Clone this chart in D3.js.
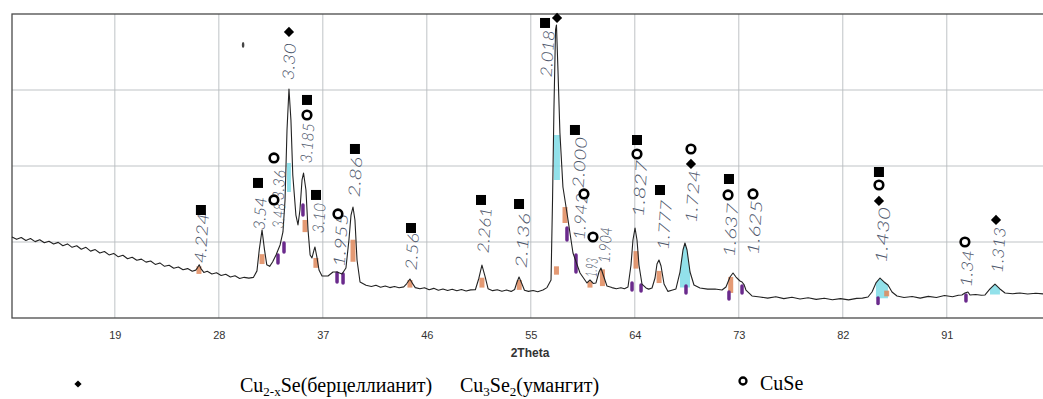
<!DOCTYPE html>
<html>
<head>
<meta charset="utf-8">
<script src="https://cdn.jsdelivr.net/npm/d3@7"></script>
<style>
  body { margin: 0; background: #fff; }
</style>
</head>
<body>
<svg id="chart" width="1043" height="399"></svg>
<script>
// 2Theta ticks under the frame
const xTicks = [19, 28, 37, 46, 55, 64, 73, 82, 91];
const yGrid = [1000, 2000, 3000];

// diffractogram: [2theta, intensity]
const pattern = [
  [10.1,1066],[10.5,1035],[10.9,1060],[11.3,1020],[11.7,1045],[12.1,1005],[12.5,1030],[12.9,990],
  [13.3,1010],[13.7,975],[14.1,995],[14.5,950],[14.9,975],[15.3,930],[15.7,950],[16.1,905],
  [16.5,930],[16.9,880],[17.3,900],[17.7,855],[18.1,875],[18.5,830],[18.9,850],[19.3,805],
  [19.7,825],[20.1,780],[20.5,800],[20.9,760],[21.3,775],[21.7,735],[22.1,750],[22.5,705],
  [22.9,725],[23.3,680],[23.7,695],[24.1,655],[24.5,670],[24.9,635],[25.3,650],[25.7,615],
  [26.0,630],[26.15,660],[26.3,700],[26.45,650],[26.7,600],[27.0,615],[27.4,580],[27.8,595],
  [28.2,560],[28.6,575],[29.0,540],[29.4,555],[29.8,520],[30.2,535],[30.6,525],[31.0,535],
  [31.3,620],[31.5,900],[31.74,1158],[31.95,900],[32.15,700],[32.4,680],[32.65,737],[32.95,829],
  [33.3,961],[33.55,1132],[33.73,1553],[33.9,2474],[34.07,3013],[34.24,2606],[34.4,1882],[34.67,1355],
  [34.85,1224],[35.02,1421],[35.2,1816],[35.33,1908],[35.54,1684],[35.72,1158],[35.9,829],[36.06,790],
  [36.24,895],[36.32,934],[36.5,790],[36.67,632],[36.93,553],[37.45,553],[37.88,605],[38.23,605],
  [38.66,579],[39.0,658],[39.26,1026],[39.44,1355],[39.61,1460],[39.78,1290],[39.96,763],[40.22,474],
  [40.74,430],[41.2,415],[41.6,430],[42.0,405],[42.4,420],[42.8,400],[43.2,415],[43.6,398],
  [44.0,410],[44.25,450],[44.54,513],[44.8,445],[45.0,400],[45.4,385],[45.8,398],[46.2,372],
  [46.6,390],[47.0,365],[47.4,382],[47.8,362],[48.2,378],[48.6,358],[49.0,374],[49.4,356],
  [49.8,370],[50.2,372],[50.5,520],[50.77,697],[51.05,540],[51.3,385],[51.7,360],[52.1,372],
  [52.5,352],[52.9,368],[53.3,350],[53.6,375],[53.8,470],[53.98,539],[54.2,460],[54.45,365],
  [54.8,350],[55.2,362],[55.6,345],[56.05,368],[56.4,400],[56.75,500],[56.88,1553],[57.0,2737],
  [57.14,3790],[57.22,3856],[57.35,3264],[57.52,2435],[57.78,1724],[58.13,1382],[58.65,855],[59.26,592],
  [59.86,461],[60.12,500],[60.4,455],[60.64,461],[60.9,605],[61.07,658],[61.24,579],[61.59,421],
  [62.02,400],[62.4,385],[62.8,398],[63.1,385],[63.41,408],[63.67,697],[63.84,1026],[64.02,1184],
  [64.19,1026],[64.36,697],[64.62,447],[64.97,395],[65.2,380],[65.49,395],[65.75,526],[65.92,711],
  [66.09,763],[66.27,684],[66.53,447],[66.87,350],[67.2,365],[67.56,382],[67.91,605],[68.17,895],
  [68.34,987],[68.52,895],[68.78,605],[69.12,434],[69.64,395],[70.3,380],[70.94,382],[71.55,368],
  [71.89,408],[72.24,539],[72.5,592],[72.76,539],[73.1,487],[73.28,474],[73.45,440],[73.62,368],
  [74.14,290],[74.83,276],[75.5,262],[76.2,280],[76.9,255],[77.6,272],[78.3,250],[79.0,266],
  [79.7,245],[80.4,260],[81.1,240],[81.8,255],[82.5,238],[83.2,258],[83.7,262],[84.18,276],
  [84.53,342],[84.87,461],[85.22,526],[85.57,474],[85.91,434],[86.26,342],[86.69,290],[87.3,270],
  [88.0,282],[88.7,262],[89.4,285],[90.1,270],[90.8,295],[91.5,280],[92.0,300],[92.31,303],
  [92.57,329],[92.83,342],[93.01,303],[93.5,310],[94.0,300],[94.31,303],[94.74,382],[95.17,447],
  [95.6,382],[96.04,329],[96.7,320],[97.33,329],[98.0,315],[98.7,325],[99.4,316]
];

// handwritten d-spacing notes: [2theta, text, intensity at foot, intensity at head]
const notes = [
  [26.28,"4.224",724,1382],[31.39,"3.54",1158,1592],[33.03,"3.48",1184,1513],[33.03,"3.36",1553,1948],
  [33.9,"3.30",3132,3619],[35.46,"3.185",2040,2566],[36.5,"3.10",1119,1513],[38.31,"1.955",671,1382],
  [39.61,"2.86",1592,2119],[44.54,"2.56",632,1119],[50.77,"2.261",855,1461],[54.06,"2.136",658,1382],
  [56.23,"2.018",3172,3790],[59.0,"2.000",1711,2382],[59.08,"1.942",1026,1645],[60.12,"1.93",540,790],
  [61.25,"1.904",724,1198],[64.19,"1.827",1329,2079],[66.35,"1.777",895,1553],[68.78,"1.724",1250,1948],
  [72.07,"1.637",803,1513],[74.14,"1.625",829,1553],[85.22,"1.430",724,1461],[92.57,"1.34",408,895],
  [95.26,"1.313",592,1198]
];

// phase marks: Cu3Se2 squares, CuSe circles, Cu2-xSe diamonds
const squares = [
  [26.45,1421],[31.39,1777],[35.63,2869],[36.41,1619],[39.78,2224],[44.63,1184],[50.69,1553],
  [53.98,1500],[56.23,3882],[58.82,2474],[64.19,2342],[66.18,1684],[72.15,1829],[85.13,1921]
];
const circles = [
  [32.77,2106],[32.77,1553],[35.63,2671],[38.31,1369],[59.6,1632],[60.38,1066],[64.19,2158],
  [68.86,2224],[72.07,1619],[74.23,1632],[85.13,1750],[92.57,1000]
];
const diamonds = [[34.07,3764],[57.27,3948],[68.86,2027],[85.13,1540],[95.26,1290]];

// marker-pen highlights on the scan
const cyanBands = [[33.9,34.24,1658,2040],[57.0,57.52,1816,2408],[67.91,68.78,400,5000],[84.6,86.1,260,5000],[94.57,95.6,310,5000]];
const orangeTicks = [
  [26.28,580,680],[31.74,710,840],[35.46,1130,1290],[36.4,660,790],[39.61,740,1030],[44.54,400,500],
  [50.77,400,530],[54.0,370,500],[57.22,570,680],[57.96,1250,1460],[60.12,400,480],[61.2,420,640],
  [64.1,650,880],[66.1,460,620],[72.3,330,540],[85.8,285,360]
];
const purpleTicks = [
  [33.12,724,829],[33.64,868,987],[35.28,1355,1487],[38.23,474,592],[38.75,461,579],[58.13,1026,1184],
  [58.91,605,829],[63.76,368,461],[64.54,355,434],[68.43,329,421],[72.15,250,342],[73.28,329,421],
  [85.05,190,263],[92.66,224,303]
];

const svg = d3.select('#chart');
const x = d3.scaleLinear().domain([10.1, 99.5]).range([12, 1045]);
const y = d3.scaleLinear().domain([0, 4000]).range([318, 14]);

// grid
svg.append('g')
  .selectAll('line')
  .data(xTicks)
  .enter()
  .append('line')
  .attr('x1', d => x(d)).attr('x2', d => x(d))
  .attr('y1', y(4000)).attr('y2', y(0))
  .attr('stroke', '#b8bcbf').attr('stroke-width', 0.9);

svg.append('g')
  .selectAll('line')
  .data(yGrid)
  .enter()
  .append('line')
  .attr('x1', x(10.1)).attr('x2', 1045)
  .attr('y1', d => y(d)).attr('y2', d => y(d))
  .attr('stroke', '#b8bcbf').attr('stroke-width', 0.9);

// frame
svg.append('rect')
  .attr('x', x(10.1)).attr('y', y(4000))
  .attr('width', 1045 - x(10.1)).attr('height', y(0) - y(4000))
  .attr('fill', 'none').attr('stroke', '#4a4a4a').attr('stroke-width', 1.3);

// x axis, labels only
const xAxis = d3.axisBottom(x).tickValues(xTicks).tickSize(0).tickPadding(13);
const gx = svg.append('g').attr('transform', `translate(0,${y(0)})`).call(xAxis);
gx.select('.domain').remove();
gx.selectAll('text').attr('font-family', 'Liberation Sans Narrow, Liberation Sans, Arial').attr('font-size', 11).attr('fill', '#333');

svg.append('text')
  .attr('x', 530).attr('y', 357)
  .attr('text-anchor', 'middle')
  .attr('font-family', 'Liberation Sans Narrow, Liberation Sans, Arial').attr('font-weight', 'bold').attr('font-size', 12)
  .attr('fill', '#333')
  .text('2Theta');

// cyan marker fills under peaks
const area = d3.area()
  .x(d => x(d.t))
  .y0(d => y(d.lo))
  .y1(d => y(d.hi));
cyanBands.forEach(b => {
  const pts = pattern
    .filter(p => p[0] >= b[0] && p[0] <= b[1])
    .map(p => ({ t: p[0], lo: Math.min(b[2], p[1]), hi: Math.min(b[3], p[1]) }));
  svg.append('path').attr('d', area(pts)).attr('fill', '#7fdce6').attr('opacity', 0.85);
});

svg.append('g')
  .selectAll('line')
  .data(orangeTicks)
  .enter()
  .append('line')
  .attr('x1', d => x(d[0])).attr('x2', d => x(d[0]))
  .attr('y1', d => y(d[1])).attr('y2', d => y(d[2]))
  .attr('stroke', '#e0895c').attr('stroke-width', 5).attr('opacity', 0.85);

svg.append('g')
  .selectAll('line')
  .data(purpleTicks)
  .enter()
  .append('line')
  .attr('x1', d => x(d[0])).attr('x2', d => x(d[0]))
  .attr('y1', d => y(d[1])).attr('y2', d => y(d[2]))
  .attr('stroke', '#6a2a8c').attr('stroke-width', 3.5).attr('stroke-linecap', 'round');

// the pattern itself
const line = d3.line().x(d => x(d[0])).y(d => y(d[1]));
svg.append('path')
  .datum(pattern)
  .attr('d', line)
  .attr('fill', 'none')
  .attr('stroke', '#222')
  .attr('stroke-width', 1.1)
  .attr('stroke-linejoin', 'round');

// handwritten notes
svg.append('g')
  .selectAll('text')
  .data(notes)
  .enter()
  .append('text')
  .attr('transform', d => `translate(${x(d[0])},${y(d[2])}) rotate(-86)`)
  .attr('dominant-baseline', 'central')
  .attr('textLength', d => y(d[2]) - y(d[3]))
  .attr('lengthAdjust', 'spacingAndGlyphs')
  .attr('font-family', 'Lato, Open Sans, sans-serif')
  .attr('font-style', 'italic')
  .attr('font-weight', 300)
  .attr('font-size', 16)
  .attr('fill', '#4b5469')
  .text(d => d[1]);

// phase symbols
svg.append('g')
  .selectAll('rect')
  .data(squares)
  .enter()
  .append('rect')
  .attr('x', d => x(d[0]) - 5).attr('y', d => y(d[1]) - 5)
  .attr('width', 10).attr('height', 10)
  .attr('fill', '#000');

svg.append('g')
  .selectAll('circle')
  .data(circles)
  .enter()
  .append('circle')
  .attr('cx', d => x(d[0])).attr('cy', d => y(d[1]))
  .attr('r', 4.3)
  .attr('fill', '#fff').attr('stroke', '#000').attr('stroke-width', 2.6);

const diamond = d3.symbol().type(d3.symbolSquare).size(52);
svg.append('g')
  .selectAll('path')
  .data(diamonds)
  .enter()
  .append('path')
  .attr('d', diamond)
  .attr('transform', d => `translate(${x(d[0])},${y(d[1])}) rotate(45)`)
  .attr('fill', '#000');

// stray ink spot on the scan
svg.append('ellipse').attr('cx', x(30.1)).attr('cy', y(3593)).attr('rx', 1.3).attr('ry', 3)
  .attr('fill', '#444');

// legend
const legendFont = 'Liberation Serif, Times New Roman';
svg.append('path')
  .attr('d', d3.symbol().type(d3.symbolSquare).size(26)())
  .attr('transform', 'translate(78,384) rotate(45)')
  .attr('fill', '#000');

const t1 = svg.append('text').attr('x', 240).attr('y', 392)
  .attr('font-family', legendFont).attr('font-size', 20).attr('fill', '#000');
t1.append('tspan').text('Cu');
t1.append('tspan').attr('font-size', 13).attr('dy', 4).text('2-x');
t1.append('tspan').attr('dy', -4).text('Se(берцеллианит)');

const t2 = svg.append('text').attr('x', 460).attr('y', 392)
  .attr('font-family', legendFont).attr('font-size', 20).attr('fill', '#000');
t2.append('tspan').text('Cu');
t2.append('tspan').attr('font-size', 13).attr('dy', 4).text('3');
t2.append('tspan').attr('dy', -4).text('Se');
t2.append('tspan').attr('font-size', 13).attr('dy', 4).text('2');
t2.append('tspan').attr('dy', -4).text('(умангит)');

svg.append('circle').attr('cx', 743).attr('cy', 381).attr('r', 3.5)
  .attr('fill', '#fff').attr('stroke', '#000').attr('stroke-width', 2.3);
svg.append('text').attr('x', 760).attr('y', 390)
  .attr('font-family', legendFont).attr('font-size', 20).attr('fill', '#000')
  .text('CuSe');
</script>
</body>
</html>
